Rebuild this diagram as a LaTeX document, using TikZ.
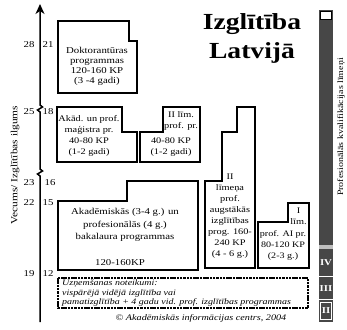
\documentclass[tikz,border=0pt]{standalone}
\usepackage{fontspec}
\setmainfont{Liberation Serif}
\newfontfamily\wide[FakeStretch=1.2]{Liberation Serif}
\usetikzlibrary{arrows.meta}
\tikzset{
  box/.style={draw, line width=1.2pt, line join=miter},
  txt/.style={font=\wide\fontsize{9}{10}\selectfont, align=center, inner sep=0pt},
  txtb/.style={font=\wide\fontsize{8.6}{11}\selectfont, align=center, inner sep=0pt},
  agelbl/.style={font=\wide\fontsize{9}{10}\selectfont, inner sep=0pt},
  axis/.style={line width=1.5pt, -{Stealth[length=10pt,width=9pt,inset=3pt]}},
  barlbl/.style={font=\wide\bfseries\fontsize{9}{10}\selectfont, text=white, inner sep=0pt}
}
\begin{document}
\begin{tikzpicture}[x=1pt,y=-1pt]
\useasboundingbox (0,0) rectangle (347,329);
% axis
\coordinate (ab) at (40,322);
\coordinate (at) at (40,4);
\draw[axis] (ab) -- (40,176) -- (37.5,174) -- (42.5,171) -- (40,169) -- (40,112) -- (37.5,110) -- (42.5,107) -- (40,105) -- (at);
% axis labels
\node[agelbl] (a28) at (29,45) {28};
\node[agelbl] (a21) at (48,45) {21};
\node[agelbl] (a25) at (29,112) {25};
\node[agelbl] (a18) at (48,112) {18};
\node[agelbl] (a23) at (29,183) {23};
\node[agelbl] (a16) at (50,183) {16};
\node[agelbl] (a22) at (29,203) {22};
\node[agelbl] (a15) at (48,203) {15};
\node[agelbl] (a19) at (29,274) {19};
\node[agelbl] (a12) at (48,274) {12};
\node[font=\wide\fontsize{9.5}{10}\selectfont, rotate=90, inner sep=0pt] (ylab) at (15,165) {Vecums/ Izglītības ilgums};
% title
\node[font=\wide\bfseries\fontsize{23}{29}\selectfont, align=center, inner sep=0pt] (title) at (252,38) {Izglītība\\Latvijā};
% Doktorantura
\draw[box] (58,21) -- (129,21) -- (129,41) -- (137,41) -- (137,93) -- (58,93) -- cycle;
\node[txt] (dok) at (97,66) {Doktorantūras\\programmas\\120-160 KP\\(3 -4 gadi)};
% Akad magistra
\draw[box] (57,107) -- (122,107) -- (122,132) -- (137,132) -- (137,162) -- (57,162) -- cycle;
\node[txtb] (mag) at (89,136) {Akād. un prof.\\maģistra pr.\\40-80 KP\\(1-2 gadi)};
% II lim prof pr
\draw[box] (163,107) -- (200,107) -- (200,162) -- (140,162) -- (140,132) -- (163,132) -- cycle;
\node[txtb] (iit) at (181,121) {II līm.\\prof. pr.};
\node[txtb] (iib) at (171,147) {40-80 KP\\(1-2 gadi)};
% Bakalaura
\draw[box] (58,201) -- (127,201) -- (127,181) -- (198,181) -- (198,270) -- (58,270) -- cycle;
\node[font=\wide\fontsize{9}{12.5}\selectfont, align=center, inner sep=0pt] (bak) at (125,225) {Akadēmiskās (3-4 g.) un\\profesionālās (4 g.)\\bakalaura programmas};
\node[txt] (bakkp) at (120,263) {120-160KP};
% II limena
\draw[box] (237,107) -- (255,107) -- (255,268) -- (205,268) -- (205,181) -- (222,181) -- (222,132) -- (237,132) -- cycle;
\node[txtb] (iil) at (230,216) {II\\līmeņa\\prof.\\augstākās\\izglītības\\prog. 160-\\240 KP\\(4 - 6 g.)};
% I lim
\draw[box] (288,203) -- (309,203) -- (309,268) -- (258,268) -- (258,222) -- (288,222) -- cycle;
\node[txtb] (it) at (298.5,216) {I\\līm.};
\node[font=\wide\fontsize{8.4}{11}\selectfont, align=center, inner sep=0pt] (ib) at (283,245) {prof. AI pr.\\80-120 KP\\(2-3 g.)};
% bottom box
\draw[box, line width=1.5pt, dash pattern=on 2.5pt off 0.8pt] (58,278) rectangle (308,308);
\node[font=\wide\itshape\fontsize{8.3}{9.3}\selectfont, align=left, anchor=north west, inner sep=0pt] (adm) at (62,280)
  {Uzņemšanas noteikumi:\\vispārējā vidējā izglītība vai\\pamatizglītība + 4 gadu vid. prof. izglītības programmas};
% copyright
\node[font=\wide\itshape\fontsize{8.5}{10}\selectfont, inner sep=0pt] (copy) at (201,318) {\textcopyright{} Akadēmiskās informācijas centrs, 2004};
% right bar
\fill[black!72] (319,10) rectangle (333,322);
\draw[line width=0.8pt, fill=white] (320.5,11) rectangle (331.5,19);
\fill[black!25] (319,245) rectangle (333,249);
\draw[white, line width=0.8pt] (319,276) -- (333,276);
\draw[white, line width=0.8pt] (319,299) -- (333,299);
\draw[white, line width=0.6pt] (320.5,302) rectangle (331.5,319);
\node[barlbl] (l4) at (326,263) {IV};
\node[barlbl] (l3) at (326,289) {III};
\node[barlbl] (l2) at (326,311) {II};
\node[font=\wide\fontsize{8.3}{10}\selectfont, rotate=90, inner sep=0pt] (rlab) at (341,127) {Profesionālās kvalifikācijas līmeņi};
\end{tikzpicture}
\end{document}
